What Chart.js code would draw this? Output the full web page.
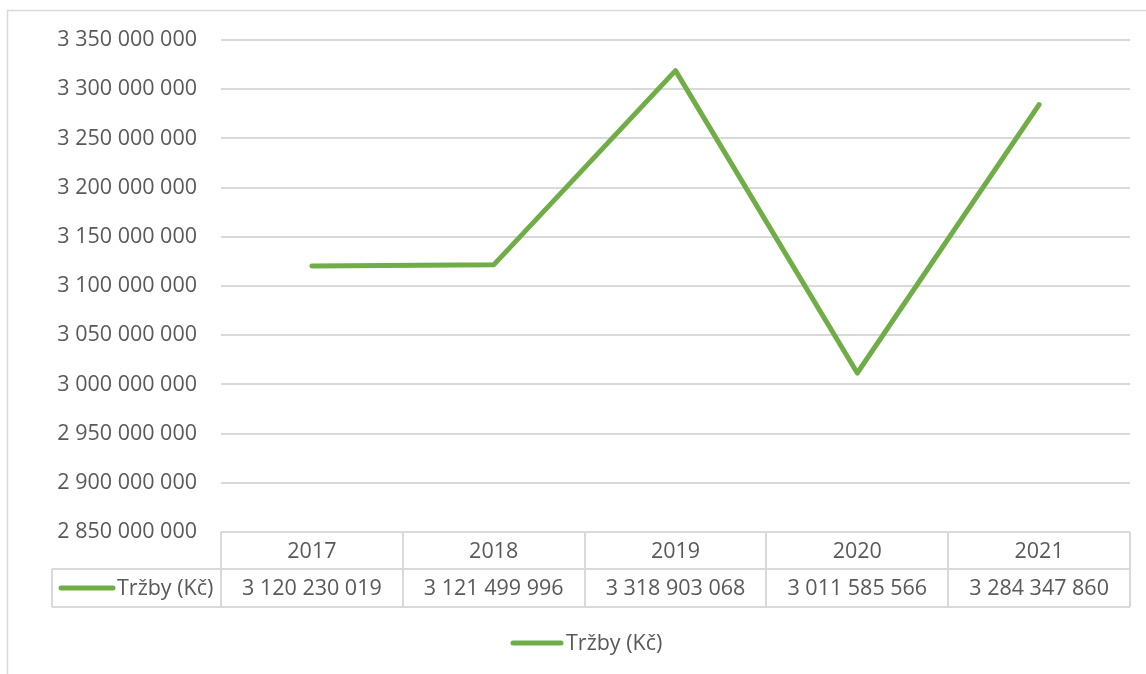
<!DOCTYPE html>
<html>
<head>
<meta charset="utf-8">
<script src="https://cdn.jsdelivr.net/npm/chart.js@4.4.1/dist/chart.umd.min.js"></script>
<style>
html,body{margin:0;padding:0;background:#fff;}
#wrap{width:1146px;height:674px;}
</style>
</head>
<body>
<div id="wrap"><canvas id="c" width="1146" height="674"></canvas></div>
<script>
const years = ['2017', '2018', '2019', '2020', '2021'];
const seriesName = 'Tržby (Kč)';
const trzby = [3120230019, 3121499996, 3318903068, 3011585566, 3284347860];
const yMin = 2850000000;
const yMax = 3350000000;
const yStep = 50000000;

const FONT = '"Open Sans", "Liberation Sans", sans-serif';
const FSIZE = 21.5;
const TXT = '#595959';
const GRID = '#d9d9d9';
const GREEN = '#70ad47';

function fmt(v) {
  return String(Math.round(v)).replace(/\B(?=(\d{3})+(?!\d))/g, ' ');
}

const tablePlugin = {
  id: 'dataTable',
  afterDraw(chart) {
    const ctx = chart.ctx;
    const ca = chart.chartArea;
    const xs = chart.scales.x;
    const n = years.length;
    const colW = (ca.right - ca.left) / n;
    const top = ca.bottom;
    const mid = top + 37;
    const bot = mid + 38;
    const keyLeft = 52;
    ctx.save();
    // outer chart border
    ctx.strokeStyle = GRID;
    ctx.lineWidth = 1.5;
    ctx.beginPath();
    ctx.moveTo(7.5, 674);
    ctx.lineTo(7.5, 10.5);
    ctx.lineTo(1146, 10.5);
    ctx.stroke();
    // table lines
    ctx.lineWidth = 2;
    ctx.beginPath();
    ctx.moveTo(ca.left, top); ctx.lineTo(ca.right, top);
    ctx.moveTo(keyLeft, mid); ctx.lineTo(ca.right, mid);
    ctx.moveTo(keyLeft, bot); ctx.lineTo(ca.right, bot);
    ctx.moveTo(keyLeft, mid); ctx.lineTo(keyLeft, bot);
    for (let i = 0; i <= n; i++) {
      const x = Math.round(ca.left + i * colW);
      ctx.moveTo(x, top); ctx.lineTo(x, bot);
    }
    ctx.stroke();
    // texts
    ctx.fillStyle = TXT;
    ctx.font = FSIZE + 'px ' + FONT;
    ctx.textAlign = 'center';
    ctx.textBaseline = 'middle';
    for (let i = 0; i < n; i++) {
      const cx = xs.getPixelForValue(i);
      ctx.fillText(years[i], cx, (top + mid) / 2 + 1);
      ctx.fillText(fmt(trzby[i]), cx, (mid + bot) / 2 + 1);
    }
    // legend key inside table
    ctx.strokeStyle = GREEN;
    ctx.lineWidth = 5;
    ctx.lineCap = 'round';
    ctx.beginPath();
    ctx.moveTo(61, (mid + bot) / 2); ctx.lineTo(113, (mid + bot) / 2);
    ctx.stroke();
    ctx.textAlign = 'left';
    ctx.fillText(seriesName, 117, (mid + bot) / 2 + 1);
    // bottom legend
    ctx.beginPath();
    ctx.moveTo(513, 643); ctx.lineTo(561, 643);
    ctx.stroke();
    ctx.fillText(seriesName, 566, 644);
    ctx.restore();
  }
};

new Chart(document.getElementById('c'), {
  type: 'line',
  data: {
    labels: years,
    datasets: [{
      label: seriesName,
      data: trzby,
      borderColor: GREEN,
      backgroundColor: GREEN,
      borderWidth: 5,
      borderCapStyle: 'round',
      borderJoinStyle: 'round',
      pointRadius: 0,
      tension: 0,
      fill: false
    }]
  },
  options: {
    responsive: false,
    animation: false,
    layout: { padding: { left: 0, top: 40, right: 16, bottom: 142 } },
    plugins: { legend: { display: false }, tooltip: { enabled: false } },
    scales: {
      x: { display: false, offset: true },
      y: {
        min: yMin, max: yMax,
        border: { display: false },
        grid: { color: GRID, lineWidth: 2, drawTicks: false },
        ticks: {
          stepSize: yStep,
          padding: 24,
          color: TXT,
          font: { family: FONT, size: FSIZE },
          callback: v => fmt(v)
        },
        afterFit(scale) { scale.width = 221; }
      }
    }
  },
  plugins: [tablePlugin]
});
</script>
</body>
</html>
